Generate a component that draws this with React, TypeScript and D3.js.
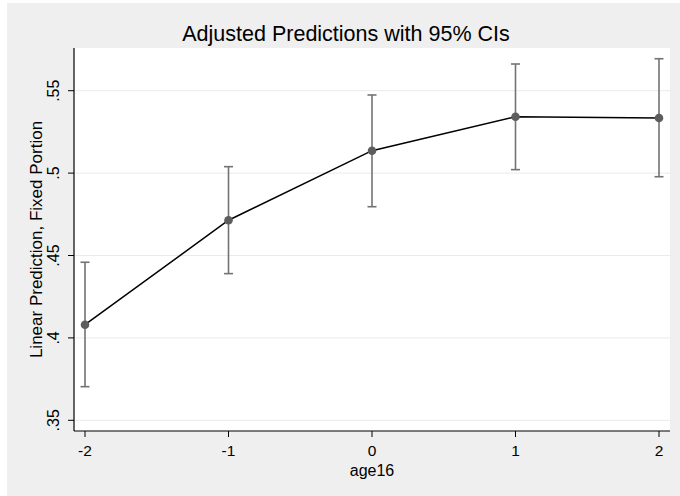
import React from "react";
import * as d3 from "d3";

// margins output, age16 = -2..2
const ageLevels = [-2, -1, 0, 1, 2];
const predicted = [0.408, 0.4714, 0.5136, 0.5342, 0.5334];
const ciLower = [0.3704, 0.439, 0.4796, 0.5021, 0.4978];
const ciUpper = [0.4459, 0.5039, 0.5474, 0.5662, 0.5694];
const yTicks = [0.35, 0.4, 0.45, 0.5, 0.55];
const yTickLabels = [".35", ".4", ".45", ".5", ".55"];

const W = 680;
const H = 496;
const font = "'Liberation Sans', Arial, sans-serif";

export default function App() {
  const plot = { left: 74, right: 670, top: 48, bottom: 431 };

  const x = d3.scaleLinear().domain([-2, 2]).range([85, 659]);
  const y = d3
    .scaleLinear()
    .domain([0.35, 0.55])
    .range([420.3, 90.7]);

  const line = d3
    .line<number>()
    .x((d, i) => x(ageLevels[i]))
    .y((d) => y(d));

  const capW = 4.5;

  return (
    <svg
      width={W}
      height={H}
      style={{ position: "absolute", left: 0, top: 0, display: "block" }}
    >
      <rect x={0} y={0} width={W} height={H} fill="#ffffff" />
      <rect x={7} y={3} width={W - 7} height={H - 3} fill="#efefef" />
      <rect
        x={plot.left}
        y={plot.top}
        width={plot.right - plot.left}
        height={plot.bottom - plot.top}
        fill="#ffffff"
      />

      {/* grid */}
      {yTicks.map((t) => (
        <line
          key={"g" + t}
          x1={plot.left}
          x2={plot.right}
          y1={y(t)}
          y2={y(t)}
          stroke="#eaeaea"
          strokeWidth={1}
        />
      ))}

      {/* axes */}
      <line x1={plot.left} x2={plot.left} y1={plot.top} y2={plot.bottom} stroke="#000" strokeWidth={1.2} />
      <line x1={plot.left} x2={plot.right} y1={plot.bottom} y2={plot.bottom} stroke="#000" strokeWidth={1.2} />

      {yTicks.map((t, i) => (
        <g key={"yt" + t}>
          <line x1={plot.left - 6} x2={plot.left} y1={y(t)} y2={y(t)} stroke="#000" strokeWidth={1} />
          <text
            transform={`translate(${59},${y(t)}) rotate(-90)`}
            textAnchor="middle"
            fontFamily={font}
            fontSize={16}
            fill="#000"
          >
            {yTickLabels[i]}
          </text>
        </g>
      ))}

      {ageLevels.map((a) => (
        <g key={"xt" + a}>
          <line x1={x(a)} x2={x(a)} y1={plot.bottom} y2={plot.bottom + 6} stroke="#000" strokeWidth={1} />
          <text
            x={x(a)}
            y={456}
            textAnchor="middle"
            fontFamily={font}
            fontSize={15.5}
            fill="#000"
          >
            {a}
          </text>
        </g>
      ))}

      <text x={372} y={476} textAnchor="middle" fontFamily={font} fontSize={16} fill="#000">
        age16
      </text>
      <text
        transform={`translate(${42},${(plot.top + plot.bottom) / 2}) rotate(-90)`}
        textAnchor="middle"
        fontFamily={font}
        fontSize={17}
        fill="#000"
      >
        Linear Prediction, Fixed Portion
      </text>
      <text x={346} y={41} textAnchor="middle" fontFamily={font} fontSize={21.5} fill="#000">
        Adjusted Predictions with 95% CIs
      </text>

      {/* CI bars */}
      {ageLevels.map((a, i) => (
        <g key={"ci" + a} stroke="#737373" strokeWidth={1.6}>
          <line x1={x(a)} x2={x(a)} y1={y(ciLower[i])} y2={y(ciUpper[i])} />
          <line x1={x(a) - capW} x2={x(a) + capW} y1={y(ciLower[i])} y2={y(ciLower[i])} />
          <line x1={x(a) - capW} x2={x(a) + capW} y1={y(ciUpper[i])} y2={y(ciUpper[i])} />
        </g>
      ))}

      <path d={line(predicted) || ""} fill="none" stroke="#000" strokeWidth={1.5} />

      {ageLevels.map((a, i) => (
        <circle key={"pt" + a} cx={x(a)} cy={y(predicted[i])} r={4.3} fill="#5d5d5d" />
      ))}
    </svg>
  );
}
